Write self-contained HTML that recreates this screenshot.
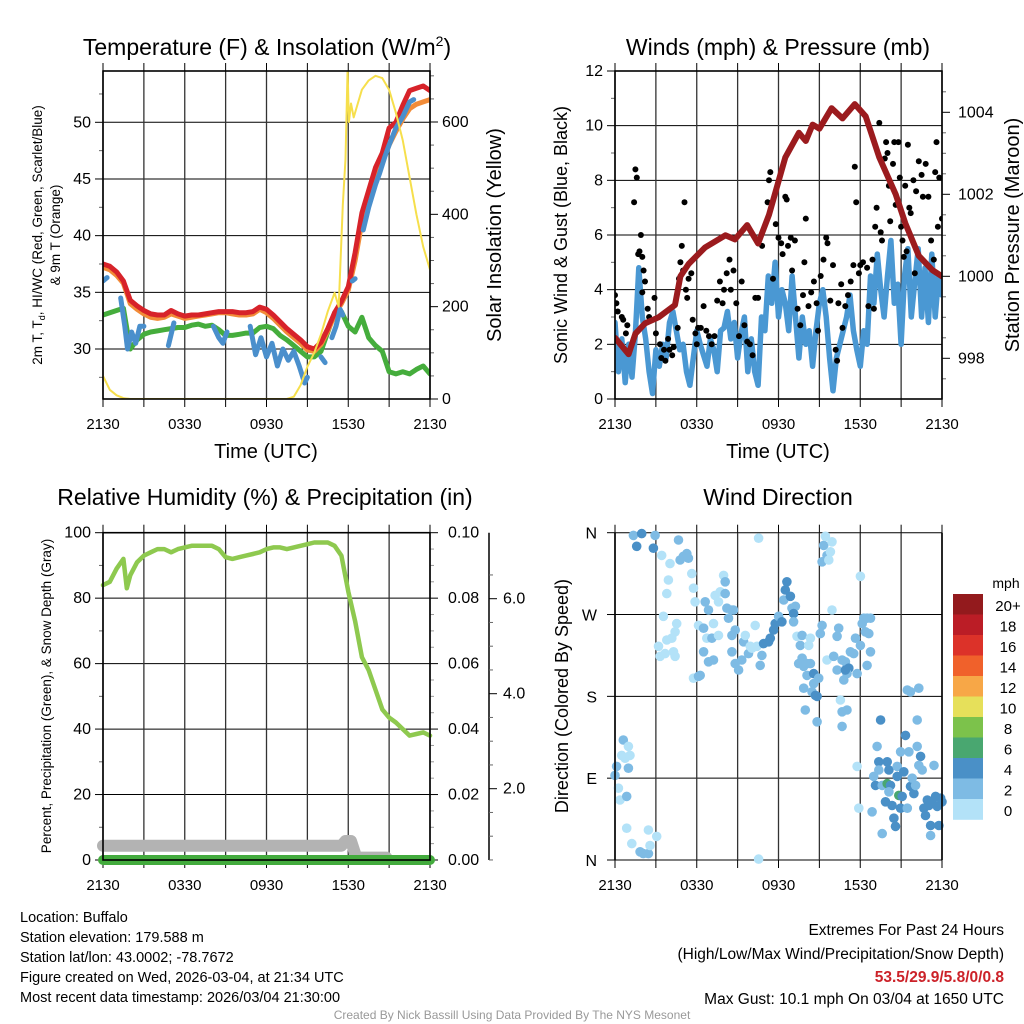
<!DOCTYPE html>
<html><head><meta charset="utf-8">
<style>
html,body{margin:0;padding:0;background:#fff;}
svg{display:block;font-family:"Liberation Sans",Arial,sans-serif;}
</style></head>
<body>
<svg id="fig" width="1024" height="1024" viewBox="0 0 1024 1024" xmlns="http://www.w3.org/2000/svg"></svg>
<script>
// ---------- DATA ----------
const hours = [0,0.5,1,1.5,2,2.5,3,3.5,4,4.5,5,5.5,6,6.5,7,7.5,8,8.5,9,9.5,10,10.5,11,11.5,12,12.5,13,13.5,14,14.5,15,15.5,16,16.5,17,17.5,18,18.5,19,19.5,20,20.5,21,21.5,22,22.5,23,23.5,24];
const tempRed = [37.5,37.3,36.8,36,34.3,33.8,33.4,33.1,33,33,33.4,33.1,32.9,33,33,33.1,33.2,33.3,33.3,33.3,33.2,33.2,33.3,33.7,33.5,33,32.4,31.8,31.3,30.8,30.2,30,30.6,31.8,33.2,34.2,35.5,38.5,42,44,46,47.3,49.5,50,51.5,52.8,53,53.2,52.8];
const temp9m = [37.2,37,36.5,35.8,34,33.5,33.1,32.8,32.7,32.8,33.1,32.9,32.7,32.8,32.9,33,33.1,33.2,33.2,33.1,33,33,33.1,33.5,33.2,32.7,32.1,31.5,31,30.5,29.9,29.8,30.4,31.6,33,34,35.2,37.8,41.2,43.2,45,46.5,48,49.2,50.3,51.2,51.6,51.8,52];
const dewGreen = [33,33.2,33.4,33.6,30,30.8,31.3,31.5,31.6,31.7,31.8,31.9,31.9,32.1,32.2,32,32.1,31.7,31.2,31.2,31.3,31.4,31.4,31.9,32,31.8,31.2,30.8,30.3,29.8,29.3,29.3,29.8,31.5,33.2,33.3,32,31.5,32.8,31,30.3,29.8,28,27.8,28,27.8,28.2,28.5,27.8];
const wcTimes = [0,0.3,null,1.3,1.6,1.8,2.1,2.4,2.7,3,null,4.8,5.2,null,8.1,8.5,8.8,9.1,null,10.8,11.2,11.6,12,12.4,12.8,13.2,13.6,14,14.4,14.8,15,null,16,16.3,null,16.8,17.1,17.4,17.6,null,18.3,18.5,null,19.1,19.5,20,20.3,20.7,21,21.5,22,22.5,22.8];
const wcBlue = [36,36.3,null,34.5,32,30,31.5,30.5,32,32,null,30.3,32.3,null,32,31,30.5,31.5,null,32,29.5,31,29.3,30.5,28.5,30,29,29.8,28.5,27,27.5,null,29.3,28.8,null,31,32,33.5,33,null,36,36.2,null,40.5,42.5,44.5,45.5,47,48,49.5,50.5,51.8,52];
const solarTimes = [0,0.5,1,1.5,2,13.5,14,14.5,15,15.5,16,16.5,17,17.3,17.6,17.8,17.95,18.05,18.2,18.4,18.7,19,19.5,20,20.5,21,21.5,22,22.5,23,23.5,24];
const solarW = [50,20,8,2,0,0,5,30,70,100,140,190,230,200,420,520,715,600,640,610,640,670,690,700,695,670,620,560,480,400,330,280];
const tempTicks = [30,35,40,45,50];
const solarTicks = [0,200,400,600];
const timeLabels = ["2130","0330","0930","1530","2130"];

const windSpeed = [2.8,1.0,2.2,0.6,2.0,0.8,2.4,4.8,3.0,
 2.2,1.0,0.2,1.8,1.2,2.0,1.5,2.8,
 3.2,2.5,1.8,2.0,1.0,0.5,1.5,2.5,
 2.0,1.6,1.2,2.2,1.8,1.0,2.5,2.6,
 3.2,2.2,2.8,1.5,2.4,3.0,1.0,2.2,
 1.0,0.5,3.0,2.5,4.5,3.5,5.0,3.0,
 4.0,3.5,2.5,4.5,3.0,1.5,3.0,2.0,
 2.5,1.2,2.5,3.5,4.0,3.0,1.5,0.3,
 1.5,2.0,2.5,3.0,3.8,2.5,1.8,1.2,
 2.5,2.0,4.5,3.5,5.3,4.0,3.0,4.5,
 5.8,3.5,4.2,2.0,4.5,5.5,3.0,4.3,
 5.5,3.0,4.8,2.8,5.3,3.0,4.5,3.8];
const gustTimes = [0,0.1,0.2,0.5,0.6,0.8,0.9,1.4,1.5,1.6,1.7,1.8,1.9,2.0,2.1,2.2,2.0,2.4,2.5,2.9,3.0,3.3,3.4,3.6,3.7,3.9,4.0,4.2,4.3,4.6,4.7,4.8,4.9,5.0,5.1,5.2,5.3,5.4,5.6,5.7,5.9,6.0,6.1,6.3,6.5,6.7,6.9,7.1,7.3,7.5,7.7,7.9,8.0,8.2,8.4,8.5,8.7,8.9,9.1,9.3,9.5,9.7,9.9,10.1,10.3,10.5,10.8,11.2,11.4,11.3,11.6,11.8,12.0,12.2,12.3,12.5,12.6,12.7,12.9,13.0,13.2,13.4,13.6,13.8,13.9,14.0,14.2,14.4,14.6,14.8,14.9,15.1,15.3,15.5,15.6,15.8,16.0,16.2,16.3,16.4,16.6,16.7,16.9,17.1,17.3,17.5,17.6,17.7,17.9,18.0,18.2,18.5,18.6,18.9,19.0,19.1,19.2,19.4,19.5,19.6,19.8,19.9,20.0,20.1,20.2,20.4,20.5,20.6,20.8,20.9,21.0,21.1,21.3,21.4,21.5,21.6,21.7,21.9,22.1,22.3,22.5,22.6,22.8,23.0,23.2,23.4,23.5,23.6,23.7,23.8,24.0,22.0,21.2];
const gustMph = [3.8,3.5,3.2,3.0,2.9,2.4,2.7,7.2,8.4,8.1,5.3,5.4,6.0,5.2,4.7,4.3,3.9,3.3,3.0,3.7,2.4,2.0,1.5,1.8,1.4,2.2,1.8,1.6,1.9,2.6,4.4,5.0,5.6,4.7,7.2,4.0,3.7,4.4,4.6,2.9,2.4,2.0,2.6,2.6,3.4,2.5,2.3,2.0,2.3,3.6,4.3,3.5,4.0,4.6,5.1,4.0,4.7,3.5,2.3,4.3,2.7,2.1,2.0,1.6,3.7,3.7,5.6,7.2,8.3,8.0,4.4,6.4,5.9,5.7,5.3,7.4,7.3,5.6,5.9,4.7,5.8,3.3,2.7,3.8,5.0,6.6,3.4,3.9,4.3,3.5,2.5,4.5,5.1,5.9,5.7,3.6,4.9,1.8,1.4,3.5,4.2,2.6,3.4,3.8,4.3,4.9,8.5,7.2,4.6,4.9,5.0,4.8,3.4,5.1,3.3,6.3,7.0,10.1,6.1,5.8,8.8,9.4,9.0,7.8,6.5,8.6,9.4,7.1,9.4,8.1,6.3,5.8,7.8,5.4,9.3,7.0,6.8,8.0,7.6,8.7,8.2,7.4,8.6,7.4,5.8,5.1,8.3,9.4,6.3,8.1,6.6,4.6,5.2];
const presTimes = [0,1,1.5,2.2,3.2,4.4,4.8,5.4,6.6,8.1,8.8,9.7,10.5,11.3,12.5,13.5,14,14.5,15,15.9,16.7,17.6,18.4,19.4,20.6,21.3,22.3,23.3,24];
const presMb = [998.5,998.1,998.6,998.85,999,999.3,1000,1000.3,1000.7,1001,1000.9,1001.25,1000.8,1001.5,1002.9,1003.5,1003.3,1003.7,1003.6,1004.1,1003.85,1004.2,1003.9,1002.9,1002,1001.3,1000.5,1000.15,1000];
const windTicks = [0,2,4,6,8,10,12];
const presTicks = [998,1000,1002,1004];

const rhTimes = [0,0.5,1,1.5,1.75,2,2.5,3,3.5,4,4.5,5,5.5,6,6.5,7,7.5,8,8.5,9,9.5,10,10.5,11,11.5,12,12.5,13,13.5,14,14.5,15,15.5,16,16.5,17,17.5,18,18.5,19,19.5,20,20.5,21,21.5,22,22.5,23,23.5,24];
const rhPct = [84,85,89,92,83,87,91,93,94,95,95,94,95,95.5,96,96,96,96,95,92.5,92,92.5,93,93.5,94,95,95.5,95.5,95,95.5,96,96.5,97,97,97,96,93,82,73,62,58,52,46,43.5,42,40,38,38.5,39,38];
const snowTimes = [0,17.5,17.8,18.2,18.6,20.8];
const snowIn = [0.8,0.8,0.9,0.9,0.55,0.55];
const precipTimes = [0,24];
const precipIn = [0,0];
const rhTicks = [0,20,40,60,80,100];
const precipTicks = ["0.00","0.02","0.04","0.06","0.08","0.10"];
const snowTicks = [2,4,6];

const dirTimes = [0,0.12,0.25,0.37,0.49,0.61,0.74,0.98,0.98,1.1,0.86,0.86,1.23,1.84,2.08,2.45,2.57,2.45,3.06,1.35,1.59,1.96,2.82,2.94,3.43,3.92,4.04,3.8,3.55,3.19,3.31,3.68,3.8,4.17,4.29,4.41,4.41,4.53,4.66,4.78,5.02,5.27,5.39,5.64,5.76,5.88,5.76,6.13,6.25,6.13,6.5,6.62,6.86,6.74,7.11,7.23,7.35,7.6,7.6,7.72,7.97,8.09,8.21,8.33,8.09,8.58,8.7,8.82,8.58,8.58,6.5,6.86,7.23,8.82,9.07,9.31,9.44,9.56,9.8,9.93,10.05,10.29,10.42,10.66,10.78,10.91,11.27,11.4,11.64,11.76,12.01,12.25,12.5,12.62,12.38,12.87,12.99,13.24,13.11,13.11,13.36,13.6,13.73,13.48,13.73,13.85,14.09,14.09,14.34,14.22,14.34,14.58,14.58,14.46,14.71,14.83,14.95,13.97,14.83,13.85,15.07,15.2,15.2,15.32,15.44,15.56,15.69,15.81,15.93,15.93,15.56,16.05,16.3,16.42,16.3,16.67,16.91,17.16,17.03,16.79,17.28,17.52,17.65,17.77,18.01,18.01,16.54,16.67,17.03,16.67,18.14,18.26,18.5,18.75,18.38,18.63,18.5,18.75,17.77,17.89,18.87,18.99,19.24,19.36,19.36,19.49,19.12,19.61,19.98,20.1,19.85,19.98,20.22,20.1,20.34,20.71,20.47,20.59,20.83,21.08,20.96,20.71,20.96,21.2,21.32,21.57,21.69,21.81,21.94,22.06,21.45,22.18,22.18,22.43,22.3,22.55,22.67,22.79,22.92,23.04,23.16,23.16,23.28,23.41,23.53,23.65,23.77,23.9,24,21.45,21.69,22.3,19.61,10.54,10.54,16.91];
const dirDeg = [93,103,79,66,115,132,112,101,125,115,70,35,18,9,7,7,16,33,26,357,345,359,343,357,335,308,326,293,268,235,224,227,242,244,229,224,251,260,352,330,334,337,332,315,299,284,200,202,203,258,255,284,275,244,244,260,291,247,284,295,313,306,277,266,293,275,275,253,247,229,229,218,220,216,209,220,240,247,227,235,233,258,235,214,225,238,240,244,253,260,268,262,297,306,286,290,277,279,271,262,246,236,247,216,222,213,203,216,216,236,244,205,194,185,181,180,200,165,152,189,249,258,328,346,356,335,330,339,350,275,220,224,209,255,246,220,218,211,205,198,229,227,244,205,236,312,176,163,165,147,260,266,266,266,251,249,214,229,103,57,53,92,125,108,99,154,82,82,108,99,64,84,82,75,60,92,46,37,71,70,57,103,119,97,137,119,81,90,73,82,57,154,125,114,104,99,57,49,66,60,38,27,64,104,70,59,38,68,64,187,185,189,29,354,1,209];
const dirSpd = [3,3,1,1,1,3,1,3,1,1,3,1,1,3,3,3,1,1,1,3,5,5,5,3,1,1,1,1,1,1,1,1,1,1,1,1,1,1,3,3,3,3,3,1,1,1,1,3,3,1,3,3,3,1,3,1,1,1,1,1,1,3,3,3,3,3,3,3,3,3,3,3,3,3,3,3,3,1,3,1,1,1,1,3,3,5,5,5,5,5,3,5,5,5,3,5,3,3,5,3,1,3,3,3,3,3,3,3,3,1,1,5,3,3,5,5,3,3,3,3,3,3,3,3,1,3,1,1,1,1,1,3,3,3,3,3,3,5,3,3,3,3,3,3,3,1,1,3,3,3,3,3,3,3,3,3,3,3,1,1,3,3,3,5,3,5,5,3,5,5,5,7,5,3,5,5,5,5,7,5,5,3,3,5,5,3,5,3,5,3,3,3,3,5,3,3,5,5,5,5,5,3,5,3,5,5,5,5,5,3,3,3,3,1,1,5];
const dirLabels = ["N","E","S","W","N"];
const legendLabels = ["20+","18","16","14","12","10","8","6","4","2","0"];
const legendColors = ["#931a1d","#bb1d26","#dc3229","#f0612b","#f7a747","#e6e05a","#7cc24b","#49a770","#4a90c7","#7ebbe4","#b3e2f8"];

// ---------- HELPERS ----------
const NS = "http://www.w3.org/2000/svg";
const svg = document.getElementById('fig');
function mk(tag, attrs, name, parent){
  const el = document.createElementNS(NS, tag);
  for (const k in attrs) el.setAttribute(k, attrs[k]);
  
  
  (parent||svg).appendChild(el);
  return el;
}
function txt(x,y,s,size,name,opts){
  opts = opts||{};
  const a = {x:x,y:y,'font-size':size,fill:opts.fill||'#000','text-anchor':opts.anchor||'middle'};
  if (opts.rot!==undefined) a.transform = 'rotate('+opts.rot+' '+x+' '+y+')';
  if (opts.weight) a['font-weight'] = opts.weight;
  const t = mk('text', a, name, opts.parent);
  t.textContent = s;
  return t;
}
function linear(d0,d1,r0,r1){ return v => r0 + (v-d0)*(r1-r0)/(d1-d0); }
function path(xs, ys, sx, sy, stroke, w, name, g){
  let d = '', pen = false;
  for (let i=0;i<xs.length;i++){
    if (xs[i]===null || ys[i]===null){ pen=false; continue; }
    d += (pen?'L':'M') + sx(xs[i]).toFixed(1) + ' ' + sy(ys[i]).toFixed(1) + ' ';
    pen = true;
  }
  return mk('path', {d:d, fill:'none', stroke:stroke, 'stroke-width':w, 'stroke-linejoin':'round', 'stroke-linecap':'round'}, name, g);
}
function frame(L, T, R, B, g, prefix){
  for (let h=0; h<=24; h+=3){
    const x = L + h*(R-L)/24;
    mk('line',{x1:x,y1:T,x2:x,y2:B,stroke:'#333','stroke-width':1.3}, prefix+'-vgrid', g);
    mk('line',{x1:x,y1:T-8,x2:x,y2:T,stroke:'#000','stroke-width':1}, prefix+'-top-tick', g);
    mk('line',{x1:x,y1:B,x2:x,y2:B+8,stroke:'#000','stroke-width':1}, prefix+'-bottom-tick', g);
  }
  timeLabels.forEach((s,i)=> txt(L + i*6*(R-L)/24, B+30, s, 15, prefix+'-x-tick-label', {parent:g}));
}
function box(L,T,R,B,g,prefix){
  mk('rect',{x:L,y:T,width:R-L,height:B-T,fill:'none',stroke:'#000','stroke-width':1.6}, prefix+'-plot-frame', g);
}

// ---------- PANEL 1: temperature ----------
(function(){
  const g = mk('g',{}, 'temperature-panel');
  const L=103,R=430,T=71,B=399;
  const sx = linear(0,24,L,R), sy = linear(30,50,349,122.3), sr = linear(0,600,399,122);
  txt(267,55,'Temperature (F) & Insolation (W/m',23,'temperature-title',{parent:g}).innerHTML += '<tspan dy="-9" font-size="14">2</tspan><tspan dy="9">)</tspan>';
  tempTicks.forEach(v=>{ const y=sy(v);
    mk('line',{x1:L,y1:y,x2:R,y2:y,stroke:'#000','stroke-width':1}, 'temp-hgrid', g);
    mk('line',{x1:L-8,y1:y,x2:L,y2:y,stroke:'#000'}, 'temp-major-tick', g);
    txt(L-12,y+5,String(v),16,'temp-y-tick-label',{parent:g,anchor:'end'});
  });
  for (let v=27.5; v<54; v+=2.5){ if (v%5!==0) mk('line',{x1:L-4,y1:sy(v),x2:L,y2:sy(v),stroke:'#666'}, 'temp-minor-tick', g); }
  solarTicks.forEach(v=>{ const y=sr(v);
    mk('line',{x1:R,y1:y,x2:R+8,y2:y,stroke:'#000'}, 'solar-major-tick', g);
    txt(R+12,y+5,String(v),16,'solar-y-tick-label',{parent:g,anchor:'start'});
  });
  for (let v=50; v<=700; v+=50){ if (v%200!==0) mk('line',{x1:R,y1:sr(v),x2:R+4,y2:sr(v),stroke:'#666'}, 'solar-minor-tick', g); }
  frame(L,T,R,B,g,'temp');
  const clip = mk('clipPath',{id:'c1'},'clip',g); mk('rect',{x:L,y:T,width:R-L,height:B-T},'clip-rect',clip);
  const pg = mk('g',{'clip-path':'url(#c1)'},'temperature-series',g);
  path(hours, dewGreen, sx, sy, '#45ad3c', 5, 'dewpoint-line', pg);
  path(hours, temp9m, sx, sy, '#f28c38', 5, 'temp-9m-line', pg);
  path(hours, tempRed, sx, sy, '#d7232a', 5, 'temp-2m-line', pg);
  path(wcTimes, wcBlue, sx, sy, '#4a8fcc', 5, 'windchill-line', pg);
  path(solarTimes, solarW, sx, sr, '#f6df4c', 2, 'solar-line', pg);
  box(L,T,R,B,g,'temp');
  txt(266,458,'Time (UTC)',20,'temp-x-axis-title',{parent:g});
  txt(42,235,'2m T, T',13.5,'temp-y-axis-title',{parent:g,rot:-90}).innerHTML += '<tspan dy="3" font-size="9">d</tspan><tspan dy="-3">, HI/WC (Red, Green, Scarlet/Blue)</tspan>';
  txt(60,235,'& 9m T (Orange)',13.5,'temp-y-axis-title-2',{parent:g,rot:-90});
  txt(501,235,'Solar Insolation (Yellow)',20,'solar-axis-title',{parent:g,rot:-90});
})();

// ---------- PANEL 2: winds ----------
(function(){
  const g = mk('g',{}, 'winds-panel');
  const L=615,R=942,T=71,B=399;
  const sx = linear(0,24,L,R), sy = linear(0,12,B,T), sp = linear(998,1004,358.3,112.3);
  txt(778,55,'Winds (mph) & Pressure (mb)',23,'winds-title',{parent:g});
  windTicks.forEach(v=>{ const y=sy(v);
    mk('line',{x1:L,y1:y,x2:R,y2:y,stroke:'#000','stroke-width':1}, 'wind-hgrid', g);
    mk('line',{x1:L-8,y1:y,x2:L,y2:y,stroke:'#000'}, 'wind-major-tick', g);
    txt(L-12,y+5,String(v),16,'wind-y-tick-label',{parent:g,anchor:'end'});
  });
  for (let v=1; v<12; v+=2) mk('line',{x1:L-4,y1:sy(v),x2:L,y2:sy(v),stroke:'#666'}, 'wind-minor-tick', g);
  presTicks.forEach(v=>{ const y=sp(v);
    mk('line',{x1:R,y1:y,x2:R+8,y2:y,stroke:'#000'}, 'pressure-major-tick', g);
    txt(R+16,y+5,String(v),16,'pressure-y-tick-label',{parent:g,anchor:'start'});
  });
  for (let v=997.5; v<1005; v+=0.5){ if (v%2!==0) mk('line',{x1:R,y1:sp(v),x2:R+4,y2:sp(v),stroke:'#666'}, 'pressure-minor-tick', g); }
  frame(L,T,R,B,g,'wind');
  const clip = mk('clipPath',{id:'c2'},'clip',g); mk('rect',{x:L,y:T,width:R-L,height:B-T},'clip-rect',clip);
  const pg = mk('g',{'clip-path':'url(#c2)'},'wind-series',g);
  const wt = windSpeed.map((v,i)=> i*0.25);
  path(wt, windSpeed, sx, sy, '#4a98d3', 5.5, 'sonic-wind-line', pg);
  gustTimes.forEach((t,i)=>{
    mk('circle',{cx:sx(t).toFixed(1),cy:sy(gustMph[i]).toFixed(1),r:3,fill:'#000'},'gust-dot',pg);
  });
  path(presTimes, presMb, sx, sp, '#9b1b1e', 6, 'pressure-line', pg);
  box(L,T,R,B,g,'wind');
  txt(778,458,'Time (UTC)',20,'wind-x-axis-title',{parent:g});
  txt(567,235,'Sonic Wind & Gust (Blue, Black)',18,'wind-y-axis-title',{parent:g,rot:-90});
  txt(1019,235,'Station Pressure (Maroon)',20,'pressure-axis-title',{parent:g,rot:-90});
})();

// ---------- PANEL 3: humidity ----------
(function(){
  const g = mk('g',{}, 'humidity-panel');
  const L=103,R=430,T=532.7,B=860;
  const sx = linear(0,24,L,R), sy = linear(0,100,B,T), ss = linear(0,2,883.7,788.7);
  txt(265,505,'Relative Humidity (%) & Precipitation (in)',23,'humidity-title',{parent:g});
  rhTicks.forEach((v,i)=>{ const y=sy(v);
    mk('line',{x1:L,y1:y,x2:R,y2:y,stroke:'#000','stroke-width':1}, 'rh-hgrid', g);
    mk('line',{x1:L-8,y1:y,x2:L,y2:y,stroke:'#000'}, 'rh-major-tick', g);
    txt(L-12,y+5,String(v),16,'rh-y-tick-label',{parent:g,anchor:'end'});
    mk('line',{x1:R,y1:y,x2:R+8,y2:y,stroke:'#000'}, 'precip-major-tick', g);
    txt(R+18,y+5,precipTicks[i],16,'precip-y-tick-label',{parent:g,anchor:'start'});
  });
  for (let v=10; v<100; v+=20) mk('line',{x1:L-4,y1:sy(v),x2:L,y2:sy(v),stroke:'#666'}, 'rh-minor-tick', g);
  for (let v=5; v<100; v+=5){ if (v%20!==0) mk('line',{x1:R,y1:sy(v),x2:R+4,y2:sy(v),stroke:'#999'}, 'precip-minor-tick', g); }
  mk('line',{x1:489,y1:T,x2:489,y2:B,stroke:'#000','stroke-width':1.5}, 'snow-axis-line', g);
  snowTicks.forEach(v=>{ mk('line',{x1:489,y1:ss(v),x2:497,y2:ss(v),stroke:'#000'}, 'snow-major-tick', g);
    txt(503,ss(v)+5,v.toFixed(1),16,'snow-y-tick-label',{parent:g,anchor:'start'}); });
  for (let v=0.5; v<7; v+=0.5){ if (v%2!==0 && ss(v)>=T) mk('line',{x1:489,y1:ss(v),x2:493,y2:ss(v),stroke:'#666'}, 'snow-minor-tick', g); }
  frame(L,T,R,B,g,'rh');
  const pg = mk('g',{},'humidity-series',g);
  path(snowTimes, snowIn, sx, ss, '#b3b3b3', 12, 'snow-depth-line', pg);
  path(precipTimes, precipIn, sx, v=>B, '#43ab3d', 10, 'precip-line', pg);
  path(rhTimes, rhPct, sx, sy, '#8ec94f', 4.5, 'rh-line', pg);
  box(L,T,R,B,g,'rh');
  txt(51,696,'Percent, Precipitation (Green), & Snow Depth (Gray)',13.5,'rh-y-axis-title',{parent:g,rot:-90});
})();

// ---------- PANEL 4: wind direction ----------
(function(){
  const g = mk('g',{}, 'wind-direction-panel');
  const L=615,R=942,T=532.7,B=860;
  const sx = linear(0,24,L,R), sy = linear(0,360,B,T);
  txt(778,505,'Wind Direction',23,'wind-direction-title',{parent:g});
  dirLabels.forEach((s,i)=>{ const y=sy(i*90);
    mk('line',{x1:L,y1:y,x2:R,y2:y,stroke:'#000','stroke-width':1}, 'dir-hgrid', g);
    mk('line',{x1:L-8,y1:y,x2:L,y2:y,stroke:'#000'}, 'dir-major-tick', g);
    txt(L-18,y+6,s,16,'dir-y-tick-label',{parent:g,anchor:'end'});
  });
  frame(L,T,R,B,g,'dir');
  const pg = mk('g',{},'wind-direction-points',g);
  dirTimes.forEach((t,i)=>{
    const bin = Math.min(10, Math.floor(dirSpd[i]/2));
    mk('circle',{cx:sx(t).toFixed(1),cy:sy(dirDeg[i]).toFixed(1),r:4.8,fill:legendColors[10-bin]},'direction-dot',pg);
  });
  mk('line',{x1:R,y1:T,x2:R,y2:B,stroke:'#000','stroke-width':1.6}, 'dir-right-edge', g);
  mk('line',{x1:L,y1:T,x2:L,y2:B,stroke:'#000','stroke-width':1.6}, 'dir-left-edge', g);
  txt(568,696,'Direction (Colored By Speed)',18,'dir-y-axis-title',{parent:g,rot:-90});
  const lg = mk('g',{},'speed-legend',g);
  txt(1006,588,'mph',14,'legend-title',{parent:lg});
  legendColors.forEach((c,i)=>{
    mk('rect',{x:953,y:594+i*20.5,width:30,height:20.8,fill:c},'legend-swatch',lg);
    txt(1008,611+i*20.5,legendLabels[i],15,'legend-label',{parent:lg});
  });
})();

// ---------- FOOTER ----------
const foot = mk('g',{},'footer');
["Location: Buffalo","Station elevation: 179.588 m","Station lat/lon: 43.0002; -78.7672","Figure created on Wed, 2026-03-04, at 21:34 UTC","Most recent data timestamp: 2026/03/04 21:30:00"]
 .forEach((s,i)=> txt(20,922+i*20,s,14.5,'station-info-line',{parent:foot,anchor:'start'}));
txt(1004,935,'Extremes For Past 24 Hours',15.5,'extremes-heading',{parent:foot,anchor:'end'});
txt(1004,959,'(High/Low/Max Wind/Precipitation/Snow Depth)',15.5,'extremes-subheading',{parent:foot,anchor:'end'});
txt(1004,982,'53.5/29.9/5.8/0/0.8',15.5,'extremes-values',{parent:foot,anchor:'end',fill:'#cc2229',weight:'bold'});
txt(1004,1004,'Max Gust: 10.1 mph On 03/04 at 1650 UTC',15.5,'max-gust-text',{parent:foot,anchor:'end'});
txt(512,1019,'Created By Nick Bassill Using Data Provided By The NYS Mesonet',12,'credit-text',{parent:foot,fill:'#999'});
</script>
</body></html>
